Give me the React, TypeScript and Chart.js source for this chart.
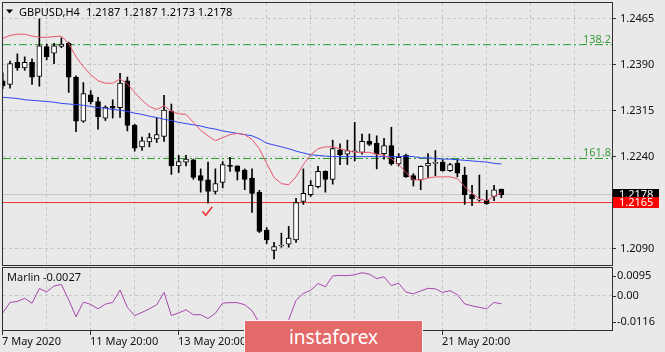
import React, { useEffect, useRef } from 'react';
import { Chart, registerables } from 'chart.js';

Chart.register(...registerables);

const FONT = '"Noto Sans", "DejaVu Sans", sans-serif';

// GBPUSD H4 bars, index 0 = 7 May 2020 20:00
const openPrices = [1.2364, 1.2358, 1.2394, 1.2385, 1.2394, 1.2371, 1.2420, 1.2409, 1.2420, 1.2425,
  1.2370, 1.2298, 1.2341, 1.2330, 1.2303, 1.2322, 1.2320, 1.2364, 1.2291, 1.2256,
  1.2264, 1.2269, 1.2273, 1.2314, 1.2225, 1.2231, 1.2235, 1.2209, 1.2202, 1.2183,
  1.2198, 1.2226, 1.2225, 1.2218, 1.2205, 1.2182, 1.2120, 1.2087, 1.2094, 1.2097,
  1.2104, 1.2167, 1.2178, 1.2191, 1.2216, 1.2203, 1.2251, 1.2244, 1.2248, 1.2247,
  1.2265, 1.2262, 1.2245, 1.2258, 1.2228, 1.2242, 1.2209, 1.2202, 1.2225, 1.2229,
  1.2231, 1.2217, 1.2229, 1.2210, 1.2178, 1.2169, 1.2169, 1.2175, 1.2187];
const highPrices = [1.2377, 1.2396, 1.2408, 1.2403, 1.2400, 1.2465, 1.2424, 1.2425, 1.2434, 1.2427,
  1.2372, 1.2361, 1.2348, 1.2337, 1.2323, 1.2333, 1.2376, 1.2370, 1.2293, 1.2272,
  1.2278, 1.2303, 1.2340, 1.2326, 1.2242, 1.2242, 1.2236, 1.2220, 1.2231, 1.2220,
  1.2232, 1.2239, 1.2225, 1.2220, 1.2220, 1.2185, 1.2124, 1.2100, 1.2115, 1.2126,
  1.2172, 1.2220, 1.2201, 1.2224, 1.2217, 1.2267, 1.2261, 1.2267, 1.2296, 1.2277,
  1.2277, 1.2274, 1.2270, 1.2288, 1.2245, 1.2244, 1.2212, 1.2225, 1.2245, 1.2250,
  1.2235, 1.2229, 1.2235, 1.2223, 1.2193, 1.2210, 1.2185, 1.2193, 1.2187];
const lowPrices = [1.2351, 1.2352, 1.2381, 1.2381, 1.2358, 1.2355, 1.2398, 1.2392, 1.2418, 1.2345,
  1.2281, 1.2296, 1.2326, 1.2285, 1.2299, 1.2303, 1.2304, 1.2282, 1.2249, 1.2250,
  1.2256, 1.2263, 1.2265, 1.2211, 1.2214, 1.2225, 1.2203, 1.2182, 1.2164, 1.2179,
  1.2189, 1.2216, 1.2202, 1.2186, 1.2149, 1.2116, 1.2098, 1.2073, 1.2092, 1.2092,
  1.2100, 1.2162, 1.2175, 1.2189, 1.2182, 1.2195, 1.2227, 1.2227, 1.2233, 1.2244,
  1.2258, 1.2220, 1.2236, 1.2226, 1.2225, 1.2206, 1.2192, 1.2186, 1.2206, 1.2209,
  1.2216, 1.2216, 1.2207, 1.2162, 1.2160, 1.2167, 1.2162, 1.2168, 1.2173];
const closePrices = [1.2356, 1.2392, 1.2385, 1.2394, 1.2370, 1.2421, 1.2403, 1.2421, 1.2424, 1.2370,
  1.2298, 1.2343, 1.2330, 1.2305, 1.2321, 1.2319, 1.2360, 1.2291, 1.2254, 1.2266,
  1.2271, 1.2276, 1.2316, 1.2225, 1.2232, 1.2236, 1.2206, 1.2201, 1.2183, 1.2196,
  1.2227, 1.2224, 1.2216, 1.2203, 1.2180, 1.2118, 1.2104, 1.2093, 1.2095, 1.2107,
  1.2165, 1.2180, 1.2193, 1.2216, 1.2203, 1.2253, 1.2243, 1.2250, 1.2249, 1.2265,
  1.2260, 1.2244, 1.2258, 1.2228, 1.2239, 1.2207, 1.2202, 1.2224, 1.2229, 1.2230,
  1.2217, 1.2227, 1.2213, 1.2178, 1.2171, 1.2170, 1.2163, 1.2186, 1.2178];

// moving averages
const maFast = [1.2433, 1.2438, 1.2440, 1.2440, 1.2437, 1.2435, 1.2435, 1.2436, 1.2437, 1.2425,
  1.2403, 1.2387, 1.2374, 1.2364, 1.2360, 1.2360, 1.2367, 1.2359, 1.2345, 1.2332,
  1.2322, 1.2317, 1.2323, 1.2314, 1.2310, 1.2309, 1.2296, 1.2283, 1.2274, 1.2266,
  1.2271, 1.2276, 1.2278, 1.2276, 1.2268, 1.2253, 1.2229, 1.2206, 1.2196, 1.2194,
  1.2207, 1.2227, 1.2243, 1.2253, 1.2256, 1.2256, 1.2253, 1.2250, 1.2247, 1.2247,
  1.2247, 1.2244, 1.2242, 1.2237, 1.2227, 1.2214, 1.2202, 1.2202, 1.2205, 1.2207,
  1.2207, 1.2207, 1.2204, 1.2191, 1.2180, 1.2171, 1.2168, 1.2175, 1.2181];
const maSlow = [1.2337, 1.2336, 1.2335, 1.2333, 1.2332, 1.2331, 1.2330, 1.2329, 1.2327, 1.2326,
  1.2325, 1.2324, 1.2322, 1.2320, 1.2319, 1.2317, 1.2316, 1.2314, 1.2311, 1.2309,
  1.2306, 1.2304, 1.2301, 1.2299, 1.2296, 1.2294, 1.2292, 1.2290, 1.2287, 1.2285,
  1.2282, 1.2280, 1.2278, 1.2276, 1.2274, 1.2269, 1.2262, 1.2259, 1.2256, 1.2253,
  1.2249, 1.2246, 1.2243, 1.2242, 1.2241, 1.2240, 1.2240, 1.2240, 1.2240, 1.2240,
  1.2240, 1.2240, 1.2240, 1.2240, 1.2240, 1.2241, 1.2240, 1.2238, 1.2238, 1.2237,
  1.2236, 1.2236, 1.2235, 1.2234, 1.2233, 1.2232, 1.2231, 1.2229, 1.2228];

// Marlin oscillator
const marlinValues = [-0.0058, -0.0022, -0.0019, -0.0008, -0.0025, 0.0025, 0.0014, 0.0034, 0.0039, -0.0013,
  -0.0071, -0.0021, -0.0029, -0.0044, -0.0028, -0.0022, 0.0020, -0.0039, -0.0067, -0.0056,
  -0.0044, -0.0030, 0.0012, -0.0067, -0.0058, -0.0047, -0.0064, -0.0064, -0.0077, -0.0059,
  -0.0024, -0.0023, -0.0023, -0.0030, -0.0050, -0.0093, -0.0112, -0.0116, -0.0110, -0.0081,
  -0.0015, 0.0009, 0.0019, 0.0042, 0.0031, 0.0068, 0.0070, 0.0069, 0.0072, 0.0079,
  0.0074, 0.0059, 0.0065, 0.0035, 0.0043, 0.0013, 0.0007, 0.0017, 0.0026, 0.0024,
  0.0012, 0.0018, 0.0004, -0.0027, -0.0034, -0.0039, -0.0044, -0.0022, -0.0027];

const priceTicks = [1.2465, 1.2390, 1.2315, 1.2240, 1.2165, 1.2090];
const marlinTicks = [0.0095, 0, -0.0116];
const gridBars = [0, 6, 12, 18, 24, 30, 36, 42, 48, 54, 60, 66, 72, 78];
const dateTickBars = [0, 12, 24, 36, 48, 60];
const dateLabels = ['7 May 2020', '11 May 20:00', '13 May 20:00', '', '', '21 May 20:00'];
const fibLevels = [1.2423, 1.2237];
const fibNames = ['138.2', '161.8'];
const supportLevel = 1.2165;
const bidPrice = 1.2178;
const titleSymbol = 'GBPUSD,H4';
const titleOHLC = '1.2187 1.2187 1.2173 1.2178';
const marlinTitle = 'Marlin -0.0027';

const X_MIN = 0.041;
const X_MAX = 83.086;
const Y_MIN = 1.2063;
const Y_MAX = 1.2491;
const M_MIN = -0.0116;
const M_MAX = 0.0095;

const GRID = '#c6c6c6';
const BG = '#e9e9e9';

const barIdx = openPrices.map((_, i) => i);

function levelLine(value: number, color: string, dash: number[]) {
  return {
    type: 'line' as const,
    data: [{ x: X_MIN, y: value }, { x: X_MAX, y: value }],
    borderColor: color,
    borderWidth: 1,
    borderDash: dash,
    pointRadius: 0,
    order: 5,
  };
}

const mainOverlay = {
  id: 'mainOverlay',
  afterDraw(chart: any) {
    const { ctx, scales } = chart;
    const ys = scales.y;
    const xs = scales.x;
    ctx.save();
    ctx.font = `11px ${FONT}`;
    // fib labels
    ctx.fillStyle = '#3c9c3c';
    ctx.textAlign = 'right';
    ctx.textBaseline = 'alphabetic';
    fibLevels.forEach((lv, k) => {
      ctx.fillText(fibNames[k], 611, ys.getPixelForValue(lv) - 2);
    });
    // price boxes
    const box = (price: number, bg: string) => {
      const py = ys.getPixelForValue(price);
      ctx.fillStyle = bg;
      ctx.fillRect(613, Math.round(py) - 6, 46, 11);
      ctx.fillStyle = '#ffffff';
      ctx.textAlign = 'left';
      ctx.textBaseline = 'middle';
      ctx.fillText(price.toFixed(4), 619, py);
    };
    box(bidPrice, '#000000');
    box(supportLevel, '#ff0000');
    // frame
    ctx.strokeStyle = '#2e2e2e';
    ctx.lineWidth = 1;
    ctx.strokeRect(2.5, 2.5, 610, 263);
    // title
    ctx.fillStyle = '#000000';
    ctx.beginPath();
    ctx.moveTo(6, 9.5);
    ctx.lineTo(13, 9.5);
    ctx.lineTo(9.5, 13.5);
    ctx.closePath();
    ctx.fill();
    ctx.textAlign = 'left';
    ctx.textBaseline = 'alphabetic';
    ctx.fillText(titleSymbol, 19, 15.5);
    ctx.fillText(titleOHLC, 86, 15.5);
    // check mark under the low
    const cx = xs.getPixelForValue(28);
    const cy = ys.getPixelForValue(lowPrices[28]);
    ctx.strokeStyle = '#f03030';
    ctx.lineWidth = 1.6;
    ctx.beginPath();
    ctx.moveTo(cx - 5.7, cy + 8);
    ctx.lineTo(cx - 2.3, cy + 12);
    ctx.lineTo(cx + 4.3, cy + 3.7);
    ctx.stroke();
    ctx.restore();
  },
};

const subOverlay = {
  id: 'subOverlay',
  afterDraw(chart: any) {
    const { ctx, scales, chartArea } = chart;
    const ys = scales.y;
    const xs = scales.x;
    ctx.save();
    ctx.strokeStyle = '#2e2e2e';
    ctx.lineWidth = 1;
    ctx.strokeRect(2.5, 267.5, 610, 63);
    ctx.font = `11px ${FONT}`;
    ctx.fillStyle = '#111111';
    ctx.textAlign = 'left';
    ctx.textBaseline = 'alphabetic';
    ctx.fillText(marlinTitle, 7, 281);
    // y labels
    const pos = [chartArea.top + 8, ys.getPixelForValue(0), chartArea.bottom - 8];
    ctx.textBaseline = 'middle';
    marlinTicks.forEach((v, k) => {
      const py = Math.round(pos[k]) + 0.5;
      ctx.beginPath();
      ctx.moveTo(613, py);
      ctx.lineTo(616, py);
      ctx.stroke();
      ctx.fillText(v === 0 ? '0.00' : v.toFixed(4), 617, pos[k]);
    });
    // date ticks and labels
    ctx.textBaseline = 'alphabetic';
    dateTickBars.forEach((b, k) => {
      const px = Math.floor(xs.getPixelForValue(b)) + 0.5;
      ctx.beginPath();
      ctx.moveTo(px, 331);
      ctx.lineTo(px, 335);
      ctx.stroke();
      if (dateLabels[k]) ctx.fillText(dateLabels[k], px - 0.5, 345);
    });
    ctx.restore();
  },
};

export default function App() {
  const mainRef = useRef<HTMLCanvasElement>(null);
  const subRef = useRef<HTMLCanvasElement>(null);

  useEffect(() => {
    const bodyColor = (c: any) => {
      const i = c.dataIndex;
      if (i === undefined) return '#000';
      return closePrices[i] >= openPrices[i] ? '#ffffff' : '#000000';
    };
    const main = new Chart(mainRef.current as HTMLCanvasElement, {
      type: 'bar',
      data: {
        datasets: [
          {
            type: 'line',
            label: 'MA fast',
            data: barIdx.map((i) => ({ x: i, y: maFast[i] })),
            borderColor: '#e8546c',
            borderWidth: 1,
            pointRadius: 0,
            order: 0,
          } as any,
          {
            type: 'line',
            label: 'MA slow',
            data: barIdx.map((i) => ({ x: i, y: maSlow[i] })),
            borderColor: '#2f45f2',
            borderWidth: 1,
            pointRadius: 0,
            order: 0,
          } as any,
          {
            label: 'bodies',
            data: barIdx.map((i) => ({ x: i, y: [openPrices[i], closePrices[i]] })),
            backgroundColor: bodyColor,
            borderColor: '#000000',
            borderWidth: 1,
            borderSkipped: false,
            barThickness: 5,
            minBarLength: 1,
            grouped: false,
            order: 1,
          } as any,
          {
            label: 'wicks',
            data: barIdx.map((i) => ({ x: i, y: [lowPrices[i], highPrices[i]] })),
            backgroundColor: '#000000',
            borderWidth: 0,
            barThickness: 1,
            grouped: false,
            order: 2,
          } as any,
          levelLine(fibLevels[0], '#23a023', [8, 3, 2, 3]) as any,
          levelLine(fibLevels[1], '#23a023', [8, 3, 2, 3]) as any,
          levelLine(bidPrice, '#c4c4c4', []) as any,
          levelLine(supportLevel, '#ee3333', []) as any,
        ],
      },
      options: {
        animation: false,
        responsive: false,
        devicePixelRatio: 1,
        events: [],
        layout: { padding: { left: 3, top: 3, right: 0, bottom: 87 } },
        plugins: { legend: { display: false }, tooltip: { enabled: false } },
        scales: {
          x: {
            type: 'linear',
            min: X_MIN,
            max: X_MAX,
            offset: false,
            afterBuildTicks: (s: any) => { s.ticks = gridBars.map((v) => ({ value: v })); },
            afterFit: (s: any) => { s.height = 0; s.paddingLeft = 0; s.paddingRight = 0; },
            ticks: { display: false },
            grid: { color: GRID, drawTicks: false, offset: false },
            border: { display: false, dash: [3, 3] },
          },
          y: {
            type: 'linear',
            position: 'right',
            min: Y_MIN,
            max: Y_MAX,
            afterBuildTicks: (s: any) => { s.ticks = priceTicks.map((v) => ({ value: v })); },
            afterFit: (s: any) => { s.width = 53; s.paddingTop = 0; s.paddingBottom = 0; },
            ticks: {
              callback: (v: any) => Number(v).toFixed(4),
              color: '#111111',
              font: { family: FONT, size: 11 },
              padding: 4,
              autoSkip: false,
            },
            grid: { color: GRID, tickColor: '#333333', tickLength: 4, tickBorderDash: [] },
            border: { display: false, dash: [3, 3] },
          },
        },
      } as any,
      plugins: [mainOverlay],
    });

    const sub = new Chart(subRef.current as HTMLCanvasElement, {
      type: 'line',
      data: {
        datasets: [
          {
            label: 'Marlin',
            data: barIdx.map((i) => ({ x: i, y: marlinValues[i] })),
            borderColor: '#a646ad',
            borderWidth: 1,
            pointRadius: 0,
          },
        ],
      },
      options: {
        animation: false,
        responsive: false,
        devicePixelRatio: 1,
        events: [],
        layout: { padding: { left: 3, top: 268, right: 0, bottom: 22 } },
        plugins: { legend: { display: false }, tooltip: { enabled: false } },
        scales: {
          x: {
            type: 'linear',
            min: X_MIN,
            max: X_MAX,
            offset: false,
            afterBuildTicks: (s: any) => { s.ticks = gridBars.map((v) => ({ value: v })); },
            afterFit: (s: any) => { s.height = 0; s.paddingLeft = 0; s.paddingRight = 0; },
            ticks: { display: false },
            grid: { color: GRID, drawTicks: false },
            border: { display: false, dash: [3, 3] },
          },
          y: {
            type: 'linear',
            position: 'right',
            min: M_MIN,
            max: M_MAX,
            afterBuildTicks: (s: any) => { s.ticks = [{ value: 0 }]; },
            afterFit: (s: any) => { s.width = 53; s.paddingTop = 0; s.paddingBottom = 0; },
            ticks: { display: false },
            grid: { color: GRID, drawTicks: false },
            border: { display: false, dash: [3, 3] },
          },
        },
      } as any,
      plugins: [subOverlay],
    });

    return () => {
      main.destroy();
      sub.destroy();
    };
  }, []);

  const canvasStyle: React.CSSProperties = { position: 'absolute', left: 0, top: 0, width: 665, height: 352 };

  return (
    <div style={{ position: 'absolute', left: 0, top: 0, width: 665, height: 352, background: BG, overflow: 'hidden' }}>
      <canvas ref={mainRef} width={665} height={352} style={canvasStyle} />
      <canvas ref={subRef} width={665} height={352} style={canvasStyle} />
      <div
        style={{
          position: 'absolute',
          left: 244,
          top: 320,
          width: 179,
          height: 34,
          boxSizing: 'border-box',
          background: '#e46a6a',
          border: '1px solid #f6f6f6',
          color: '#ffffff',
          fontFamily: FONT,
          fontSize: 19,
          display: 'flex',
          alignItems: 'center',
          justifyContent: 'center',
          lineHeight: '20px',
        }}
      >
        instaforex
      </div>
    </div>
  );
}
